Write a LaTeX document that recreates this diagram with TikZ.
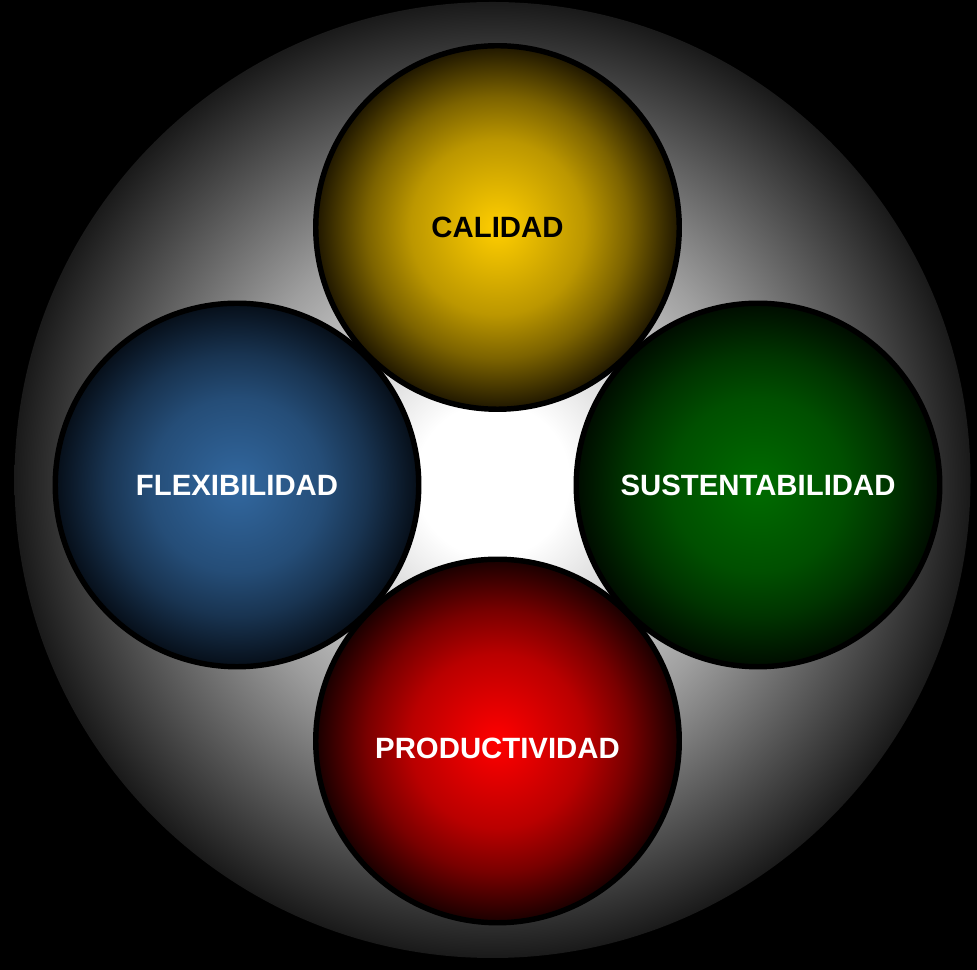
\documentclass[tikz,border=0pt]{standalone}
\usepackage{fontspec}
\setmainfont{Liberation Sans}
\usepackage{xcolor}
\usepackage{tikz}
\definecolor{yellowin}{HTML}{FFCE00}
\definecolor{yellowout}{HTML}{1E1600}
\definecolor{bluein}{HTML}{3268A0}
\definecolor{blueout}{HTML}{060E18}
\definecolor{greenin}{HTML}{006C00}
\definecolor{greenout}{HTML}{000C00}
\definecolor{redin}{HTML}{FF0000}
\definecolor{redout}{HTML}{180000}
% ball shading: bright core, dark rim
\newcommand{\ballshading}[3]{%
  \pgfdeclareradialshading{#1}{\pgfpoint{0bp}{0bp}}{%
    color(0bp)=(#2); color(12bp)=(#2!70!#3); color(18bp)=(#2!42!#3);
    color(22bp)=(#2!18!#3); color(25bp)=(#3); color(50bp)=(#3)}}
\ballshading{ballyellow}{yellowin}{yellowout}
\ballshading{ballblue}{bluein}{blueout}
\ballshading{ballgreen}{greenin}{greenout}
\ballshading{ballred}{redin}{redout}
\pgfdeclareradialshading{glow}{\pgfpoint{0bp}{0bp}}{%
  color(0bp)=(white); color(4bp)=(white); color(14bp)=(white!62!black);
  color(25bp)=(white!10!black); color(50bp)=(black)}
\tikzset{
  ball/.style={circle, draw=black, line width=3.1pt, minimum size=7.27cm,
    inner sep=0pt, font=\fontsize{16.7}{20}\selectfont\bfseries},
  lighttext/.style={text=white},
  darktext/.style={text=black},
}

\begin{document}
\begin{tikzpicture}
  \fill[black] (0,0) rectangle (19.54,19.40);
  \useasboundingbox (0,0) rectangle (19.54,19.40);
  \coordinate (O) at (9.85,9.80);
  \shade[shading=glow] (O) circle (9.56);

  \node[ball, shading=ballyellow, darktext] (calidad) at (9.95,14.85) {CALIDAD};
  \node[ball, shading=ballblue, lighttext] (flex) at (4.74,9.70) {FLEXIBILIDAD};
  \node[ball, shading=ballgreen, lighttext] (sust) at (15.16,9.70) {SUSTENTABILIDAD};
  \node[ball, shading=ballred, lighttext, text height=0.7cm] (prod) at (9.95,4.58) {PRODUCTIVIDAD};
\end{tikzpicture}
\end{document}
